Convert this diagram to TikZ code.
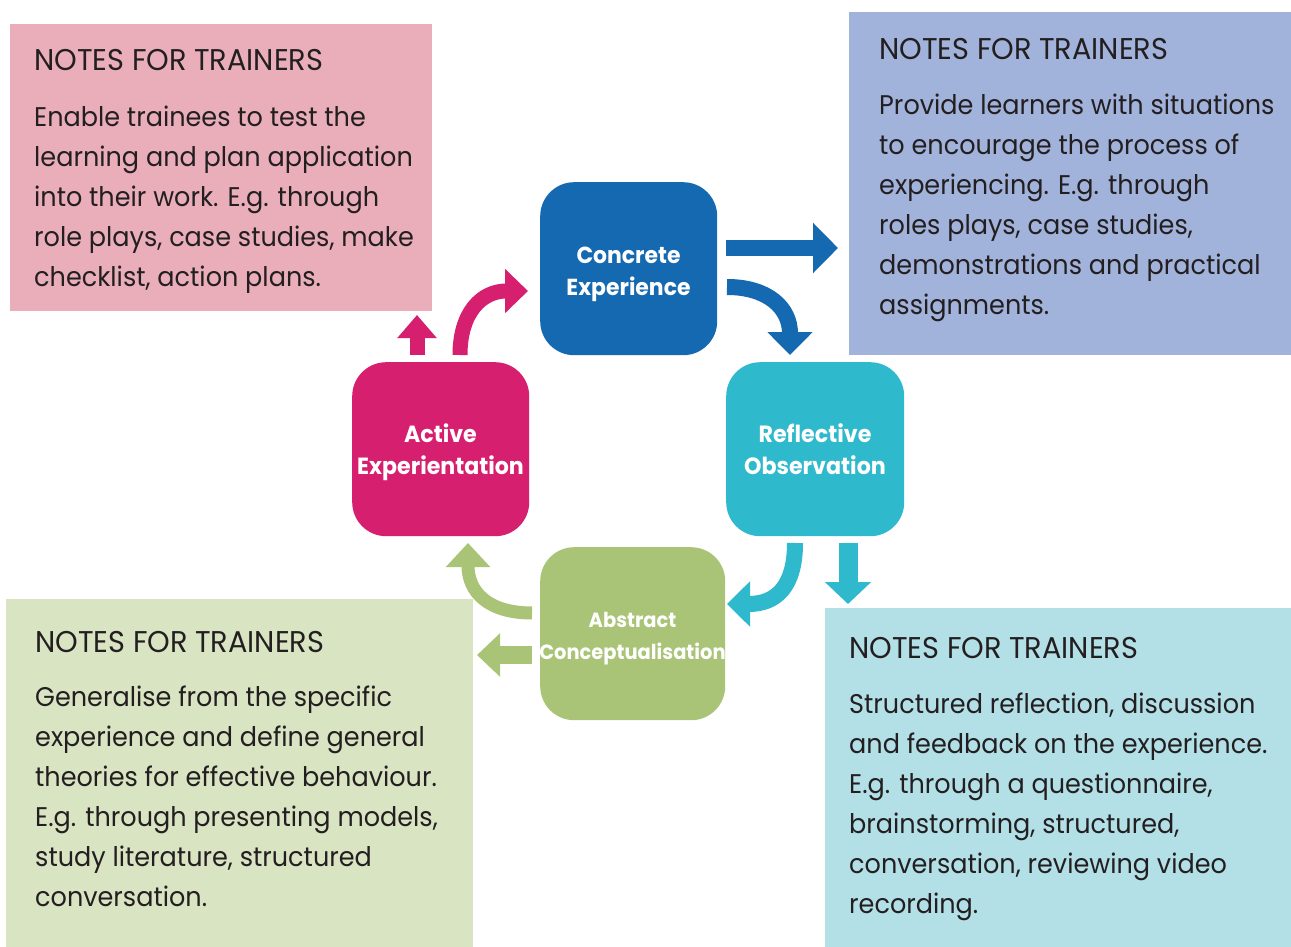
\documentclass[tikz,border=0pt]{standalone}
\usepackage{fontspec}
\setmainfont{Poppins}[FakeStretch=0.945]
\newfontfamily\titlefont{Poppins}[FakeStretch=0.96]
\usetikzlibrary{arrows.meta}
\definecolor{pinkbg}{HTML}{EAAEBB}
\definecolor{lavbg}{HTML}{A1B2DB}
\definecolor{greenbg}{HTML}{D9E4C3}
\definecolor{cyanbg}{HTML}{B3DFE7}
\definecolor{magentac}{HTML}{D61F6E}
\definecolor{bluec}{HTML}{1569B1}
\definecolor{greenc}{HTML}{A9C476}
\definecolor{cyanc}{HTML}{2EB9CD}
\definecolor{textdark}{HTML}{231F20}
\begin{document}
\begin{tikzpicture}[x=1pt,y=-1pt,
  notebox/.style={inner sep=0pt, anchor=north west, draw=none},
  title/.style={inner sep=0pt, anchor=base west, text=textdark, font=\titlefont\fontsize{30}{34}\selectfont},
  body/.style={inner sep=0pt, anchor=north west, text=textdark, align=left, font=\fontsize{27}{40}\selectfont},
  stage/.style={inner sep=0pt, anchor=north west, rounded corners=34pt},
  stagelabel/.style={inner sep=0pt, text=white, align=center},
  arr/.style={line width=#1, line cap=butt},
]
\useasboundingbox (0,0) rectangle (1291,947);
\fill[white] (0,0) rectangle (1291,947);

% note boxes
\node[notebox, fill=pinkbg, minimum width=422pt, minimum height=287pt] (pinkbox) at (10,24) {};
\node[notebox, fill=lavbg, minimum width=442pt, minimum height=343pt] (lavbox) at (849,12) {};
\node[notebox, fill=greenbg, minimum width=467pt, minimum height=348pt] (greenbox) at (6,599) {};
\node[notebox, fill=cyanbg, minimum width=466pt, minimum height=339pt] (cyanbox) at (825,608) {};

% texts
\node[title] (t1) at (34,71) {NOTES FOR TRAINERS};
\node[body] (b1) at (34,106) {Enable trainees to test the\\learning and plan application\\into their work. E.g. through\\role plays, case studies, make\\checklist, action plans.};

\node[title] (t2) at (879,60) {NOTES FOR TRAINERS};
\node[body] (b2) at (879,94) {Provide learners with situations\\to encourage the process of\\experiencing. E.g. through\\roles plays, case studies,\\demonstrations and practical\\assignments.};

\node[title] (t3) at (35,652) {NOTES FOR TRAINERS};
\node[body] (b3) at (35,686) {Generalise from the specific\\experience and define general\\theories for effective behaviour.\\E.g. through presenting models,\\study literature, structured\\conversation.};

\node[title] (t4) at (849,658) {NOTES FOR TRAINERS};
\node[body] (b4) at (849,693) {Structured reflection, discussion\\and feedback on the experience.\\E.g. through a questionnaire,\\brainstorming, structured,\\conversation, reviewing video\\recording.};

% stages
\node[stage, fill=bluec, minimum width=177pt, minimum height=173pt] (ce) at (540,182) {};
\node[stage, fill=cyanc, minimum width=178pt, minimum height=174pt] (ro) at (726,362) {};
\node[stage, fill=magentac, minimum width=177pt, minimum height=174pt] (ae) at (352,362) {};
\node[stage, fill=greenc, minimum width=185pt, minimum height=173pt] (ac) at (540,547) {};

\node[stagelabel, font=\bfseries\fontsize{23.2}{32}\selectfont] (cel) at (628.5,274.5) {Concrete\\Experience};
\node[stagelabel, font=\bfseries\fontsize{23.5}{32}\selectfont] (rol) at (815,449.5) {Reflective\\Observation};
\node[stagelabel, font=\bfseries\fontsize{23.4}{32}\selectfont] (ael) at (440.5,452.5) {Active\\Experientation};
\node[stagelabel, font=\bfseries\fontsize{20.6}{32}\selectfont] (acl) at (632.5,639) {Abstract\\Conceptualisation};

% connector coordinates
\coordinate (bs1) at (726,248);
\coordinate (be1) at (838,248);
\coordinate (bs2) at (727,287);
\coordinate (be2) at (790,355);
\coordinate (rs1) at (795,543);
\coordinate (re1) at (727,604);
\coordinate (rs2) at (848,543);
\coordinate (re2) at (848,604);
\coordinate (gs1) at (532,613);
\coordinate (ge1) at (468,543);
\coordinate (gs2) at (532,655);
\coordinate (ge2) at (477,655);
\coordinate (ms1) at (460,355);
\coordinate (me1) at (528,291);
\coordinate (ms2) at (417,355);
\coordinate (me2) at (417,315);

% arrows
\draw[arr=16pt, bluec, -{Triangle[width=49pt,length=25pt]}] (bs1) -- (be1);
\draw[arr=16pt, bluec, -{Triangle[width=44pt,length=23pt]}] (bs2) .. controls (768,287) and (790,308) .. (be2);
\draw[arr=16pt, cyanc, -{Triangle[width=44pt,length=23pt]}] (rs1) .. controls (795,588) and (775,604) .. (re1);
\draw[arr=19pt, cyanc, -{Triangle[width=45pt,length=22pt]}] (rs2) -- (re2);
\draw[arr=13pt, greenc, -{Triangle[width=43pt,length=24pt]}] (gs1) .. controls (488,613) and (468,592) .. (ge1);
\draw[arr=18pt, greenc, -{Triangle[width=42pt,length=23pt]}] (gs2) -- (ge2);
\draw[arr=15pt, magentac, -{Triangle[width=43pt,length=23pt]}] (ms1) .. controls (460,312) and (482,291) .. (me1);
\draw[arr=15pt, magentac, -{Triangle[width=38pt,length=23pt]}] (ms2) -- (me2);
\end{tikzpicture}
\end{document}
